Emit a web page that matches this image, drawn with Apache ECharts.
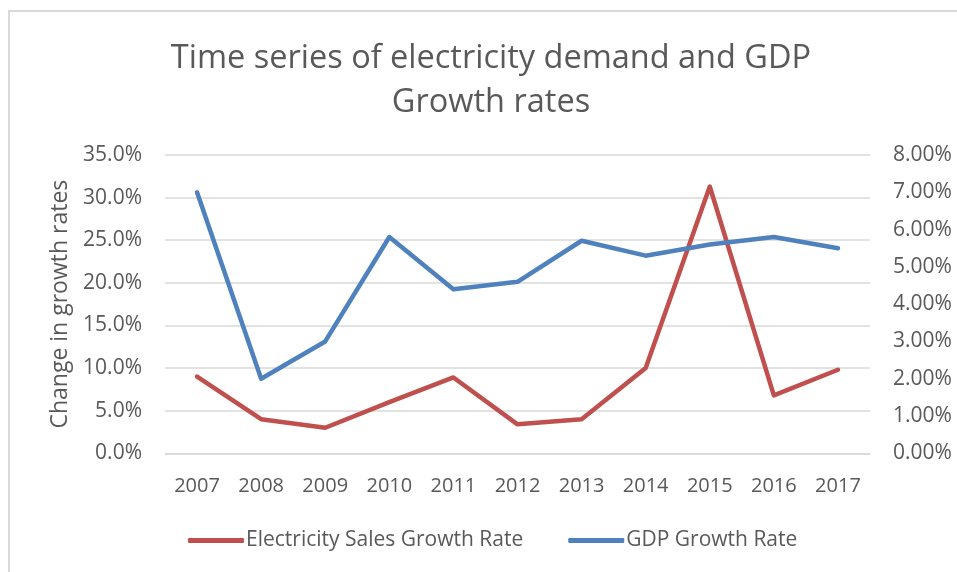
<!DOCTYPE html>
<html>
<head>
<meta charset="utf-8">
<script src="https://cdn.jsdelivr.net/npm/echarts@6/dist/echarts.min.js"></script>
<style>html,body{margin:0;padding:0;background:#fff}#c{width:957px;height:572px}</style>
</head>
<body>
<div id="c"></div>
<script>
const years = ['2007','2008','2009','2010','2011','2012','2013','2014','2015','2016','2017'];
const electricitySales = [9.0, 4.0, 3.0, 6.0, 8.9, 3.4, 4.0, 10.0, 31.3, 6.8, 9.8];
const gdpGrowth = [7.0, 2.0, 3.0, 5.8, 4.4, 4.6, 5.7, 5.3, 5.6, 5.8, 5.5];
const leftTicks = {min: 0, max: 35, interval: 5};
const rightTicks = {min: 0, max: 8, interval: 1};

const FONT = 'Open Sans';
const GRAY = '#595959';
const chart = echarts.init(document.getElementById('c'));
chart.setOption({
  animation: false,
  backgroundColor: '#fff',
  textStyle: {fontFamily: FONT},
  graphic: [{
    type: 'rect', shape: {x: 9, y: 11, width: 1000, height: 700},
    style: {fill: 'none', stroke: '#d9d9d9', lineWidth: 2}, silent: true
  }],
  title: {
    text: 'Time series of electricity demand and GDP\nGrowth rates',
    left: 486, top: 32, textAlign: 'center',
    textStyle: {fontFamily: FONT, fontSize: 32.5, fontWeight: 'normal', color: GRAY, lineHeight: 44}
  },
  legend: {
    left: 183, top: 525, itemWidth: 56, itemHeight: 5, itemGap: 45, icon: 'roundRect',
    textStyle: {fontFamily: FONT, fontSize: 21, color: GRAY, padding: [0, 0, 0, -3]},
    data: ['Electricity Sales Growth Rate', 'GDP Growth Rate']
  },
  grid: {left: 165, right: 87, top: 155, bottom: 118.7},
  xAxis: {
    type: 'category', data: years, boundaryGap: true,
    axisLine: {lineStyle: {color: '#d9d9d9', width: 1.5}},
    axisTick: {show: false},
    axisLabel: {color: GRAY, fontSize: 20, margin: 23, fontFamily: FONT}
  },
  yAxis: [{
    type: 'value', min: leftTicks.min, max: leftTicks.max, interval: leftTicks.interval,
    name: 'Change in growth rates', nameLocation: 'middle', nameGap: 90, nameRotate: 90,
    nameTextStyle: {color: GRAY, fontSize: 23, fontFamily: FONT},
    axisLine: {show: false}, axisTick: {show: false},
    splitLine: {lineStyle: {color: '#d9d9d9', width: 1.5}},
    axisLabel: {color: GRAY, fontSize: 21, margin: 23, fontFamily: FONT,
      formatter: v => v.toFixed(1) + '%'}
  }, {
    type: 'value', min: rightTicks.min, max: rightTicks.max, interval: rightTicks.interval,
    axisLine: {show: false}, axisTick: {show: false}, splitLine: {show: false},
    axisLabel: {color: GRAY, fontSize: 21, margin: 23, fontFamily: FONT,
      formatter: v => v.toFixed(2) + '%'}
  }],
  series: [{
    name: 'Electricity Sales Growth Rate', type: 'line', yAxisIndex: 0,
    data: electricitySales, symbol: 'none', color: '#c0504d',
    lineStyle: {width: 4.5, color: '#c0504d', cap: 'round', join: 'round'}
  }, {
    name: 'GDP Growth Rate', type: 'line', yAxisIndex: 1,
    data: gdpGrowth, symbol: 'none', color: '#4f81bd',
    lineStyle: {width: 4.5, color: '#4f81bd', cap: 'round', join: 'round'}
  }]
});
</script>
</body>
</html>
